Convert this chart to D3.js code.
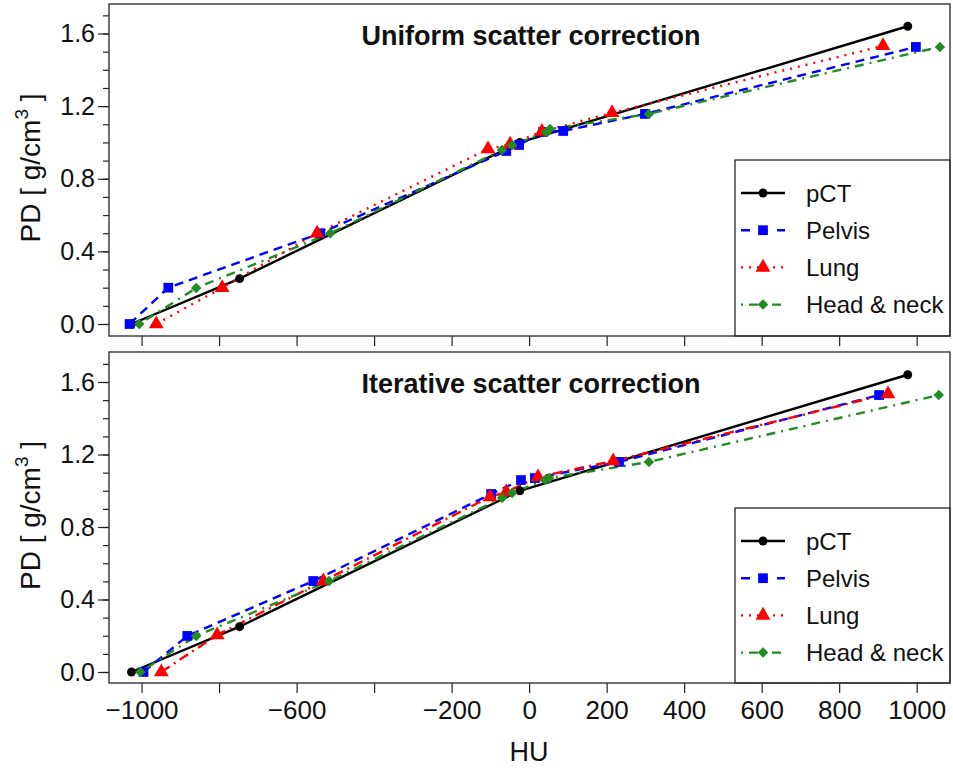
<!DOCTYPE html>
<html>
<head>
<meta charset="utf-8">
<script src="https://cdn.jsdelivr.net/npm/d3@7"></script>
<style>
  body { margin: 0; background: #fff; }
  svg text { font-family: "Liberation Sans", Arial, sans-serif; }
</style>
</head>
<body>
<div id="chart"></div>
<script>
// pCT reference curve (same in both panels)
const pctHU = [-1026, -747, -24, 977];
const pctPD = [0, 0.25, 1.0, 1.64];

// Uniform scatter correction
const uniPelvisHU = [-1031, -931, -539, -59, -26, 36, 88, 299, 998];
const uniPelvisPD = [0, 0.2, 0.5, 0.953, 0.986, 1.058, 1.063, 1.157, 1.526];
const uniLungHU = [-962, -792, -547, -106, -49, 33, 214, 913];
const uniLungPD = [0, 0.2, 0.5, 0.964, 0.99, 1.06, 1.163, 1.532];
const uniHeadHU = [-1006, -859, -513, -70, -44, 44, 54, 309, 1060];
const uniHeadPD = [0, 0.198, 0.5, 0.958, 0.986, 1.058, 1.074, 1.157, 1.526];

// Iterative scatter correction
const itPelvisHU = [-995, -882, -557, -98, -21, 15, 232, 903];
const itPelvisPD = [0, 0.199, 0.502, 0.982, 1.059, 1.07, 1.159, 1.528];
const itLungHU = [-949, -805, -531, -101, -59, 23, 217, 926];
const itLungPD = [0, 0.204, 0.502, 0.966, 0.993, 1.076, 1.164, 1.534];
const itHeadHU = [-1003, -859, -516, -70, -44, 41, 52, 309, 1057];
const itHeadPD = [0, 0.199, 0.502, 0.96, 0.988, 1.059, 1.07, 1.159, 1.528];

const xTicks = [-1000, -800, -600, -400, -200, 0, 200, 400, 600, 800, 1000];
const xLabelled = [-1000, -600, -200, 0, 200, 400, 600, 800, 1000];
const yTicks = [0, 0.4, 0.8, 1.2, 1.6];
const yMinor = d3.range(0, 1.75, 0.1);
const seriesNames = ["pCT", "Pelvis", "Lung", "Head & neck"];

const width = 953, height = 768;
const svg = d3.select("#chart").append("svg")
    .attr("width", width)
    .attr("height", height);

const x = d3.scaleLinear().domain([-1084, 1086]).range([109, 950]);

const zip = (hu, pd) => hu.map((h, i) => ({ hu: h, pd: pd[i] }));

// rotated square marker
const diamond = {
    draw(ctx, size) {
        const r = Math.sqrt(size / 2);
        ctx.moveTo(0, -r); ctx.lineTo(r, 0); ctx.lineTo(0, r); ctx.lineTo(-r, 0); ctx.closePath();
    }
};

function drawPanel(p) {
    const g = svg.append("g");
    const y = d3.scaleLinear().domain([0, 1.6]).range([p.y0, p.y16]);

    // x ticks
    g.append("g")
        .attr("transform", `translate(0,${p.bottom})`)
        .call(d3.axisBottom(x).tickValues(xTicks).tickSize(10).tickPadding(8)
            .tickFormat(d => p.labels && xLabelled.includes(d) ? d3.format("")(d) : ""))
        .call(a => a.select(".domain").remove())
        .call(a => a.selectAll("line").attr("stroke", "#222").attr("stroke-width", 1.2))
        .call(a => a.selectAll("text").attr("font-size", 26).attr("fill", "#111")
            .attr("font-family", "Liberation Sans, Arial, sans-serif"));

    // y minor ticks
    g.append("g")
        .attr("transform", "translate(109,0)")
        .call(d3.axisLeft(y).tickValues(yMinor).tickSize(6).tickFormat(""))
        .call(a => a.select(".domain").remove())
        .call(a => a.selectAll("line").attr("stroke", "#222").attr("stroke-width", 1.2));

    // y major ticks
    g.append("g")
        .attr("transform", "translate(109,0)")
        .call(d3.axisLeft(y).tickValues(yTicks).tickSize(11).tickPadding(3).tickFormat(d3.format(".1f")))
        .call(a => a.select(".domain").remove())
        .call(a => a.selectAll("line").attr("stroke", "#222").attr("stroke-width", 1.2))
        .call(a => a.selectAll("text").attr("font-size", 25).attr("fill", "#111")
            .attr("font-family", "Liberation Sans, Arial, sans-serif"));

    // y title
    const yt = g.append("text")
        .attr("transform", `translate(40,${(p.top + p.bottom) / 2 - 2}) rotate(-90)`)
        .attr("text-anchor", "middle")
        .attr("font-size", 28)
        .attr("fill", "#111");
    yt.append("tspan").text("PD [ g/cm");
    yt.append("tspan").attr("font-size", 19).attr("dy", -12).text("3");
    yt.append("tspan").attr("dy", 12).text(" ]");

    // series
    const series = [
        { data: zip(pctHU, pctPD), color: "#000", dash: null, sym: d3.symbolCircle, size: 62 },
        { data: zip(p.pelvisHU, p.pelvisPD), color: "#0000FF", dash: "9,6", sym: d3.symbolSquare, size: 95 },
        { data: zip(p.lungHU, p.lungPD), color: "#FF0000", dash: p.lungDash, sym: d3.symbolTriangle, size: 95 },
        { data: zip(p.headHU, p.headPD), color: "#228B22", dash: "2,6,9,6", sym: diamond, size: 55 }
    ];
    const line = d3.line().x(d => x(d.hu)).y(d => y(d.pd));
    series.forEach(s => {
        g.append("path")
            .datum(s.data)
            .attr("d", line)
            .attr("fill", "none")
            .attr("stroke", s.color)
            .attr("stroke-width", 2.4)
            .attr("stroke-dasharray", s.dash);
    });
    series.forEach(s => {
        g.append("g").selectAll("path")
            .data(s.data)
            .join("path")
            .attr("transform", d => `translate(${x(d.hu)},${y(d.pd)})`)
            .attr("d", d3.symbol(s.sym, s.size))
            .attr("fill", s.color);
    });

    // title
    g.append("text")
        .attr("x", 531).attr("y", p.top + 41)
        .attr("text-anchor", "middle")
        .attr("font-size", 27)
        .attr("font-weight", "bold")
        .attr("fill", "#111")
        .text(p.title);

    // legend
    const leg = g.append("g");
    leg.append("rect")
        .attr("x", 735).attr("y", p.legTop)
        .attr("width", 215).attr("height", p.bottom - p.legTop)
        .attr("fill", "#fff").attr("stroke", "#111").attr("stroke-width", 1.2);
    const legDash = ["", "9,9", "2,6", "2,6,9,6"];
    series.forEach((s, i) => {
        const ly = p.legTop + 33 + i * 37.2;
        leg.append("line")
            .attr("x1", 741).attr("x2", 785).attr("y1", ly).attr("y2", ly)
            .attr("stroke", s.color).attr("stroke-width", 2.4)
            .attr("stroke-dasharray", legDash[i] || null);
        leg.append("path")
            .attr("transform", `translate(763,${ly})`)
            .attr("d", d3.symbol(s.sym, s.size))
            .attr("fill", s.color);
        leg.append("text")
            .attr("x", 806).attr("y", ly + 8.5)
            .attr("font-size", 24)
            .attr("fill", "#111")
            .text(seriesNames[i]);
    });

    // frame
    g.append("rect")
        .attr("x", 109).attr("y", p.top)
        .attr("width", 950 - 109).attr("height", p.bottom - p.top)
        .attr("fill", "none").attr("stroke", "#333").attr("stroke-width", 1.4);
}

drawPanel({
    top: 4, bottom: 336, y0: 324, y16: 33.5, labels: false,
    title: "Uniform scatter correction", legTop: 160,
    pelvisHU: uniPelvisHU, pelvisPD: uniPelvisPD,
    lungHU: uniLungHU, lungPD: uniLungPD, lungDash: "2,6",
    headHU: uniHeadHU, headPD: uniHeadPD
});

drawPanel({
    top: 352, bottom: 683, y0: 672, y16: 382, labels: true,
    title: "Iterative scatter correction", legTop: 508,
    pelvisHU: itPelvisHU, pelvisPD: itPelvisPD,
    lungHU: itLungHU, lungPD: itLungPD, lungDash: "10,5,2,5",
    headHU: itHeadHU, headPD: itHeadPD
});

// x title
svg.append("text")
    .attr("x", 529).attr("y", 761)
    .attr("text-anchor", "middle")
    .attr("font-size", 27)
    .attr("fill", "#111")
    .text("HU");
</script>
</body>
</html>
